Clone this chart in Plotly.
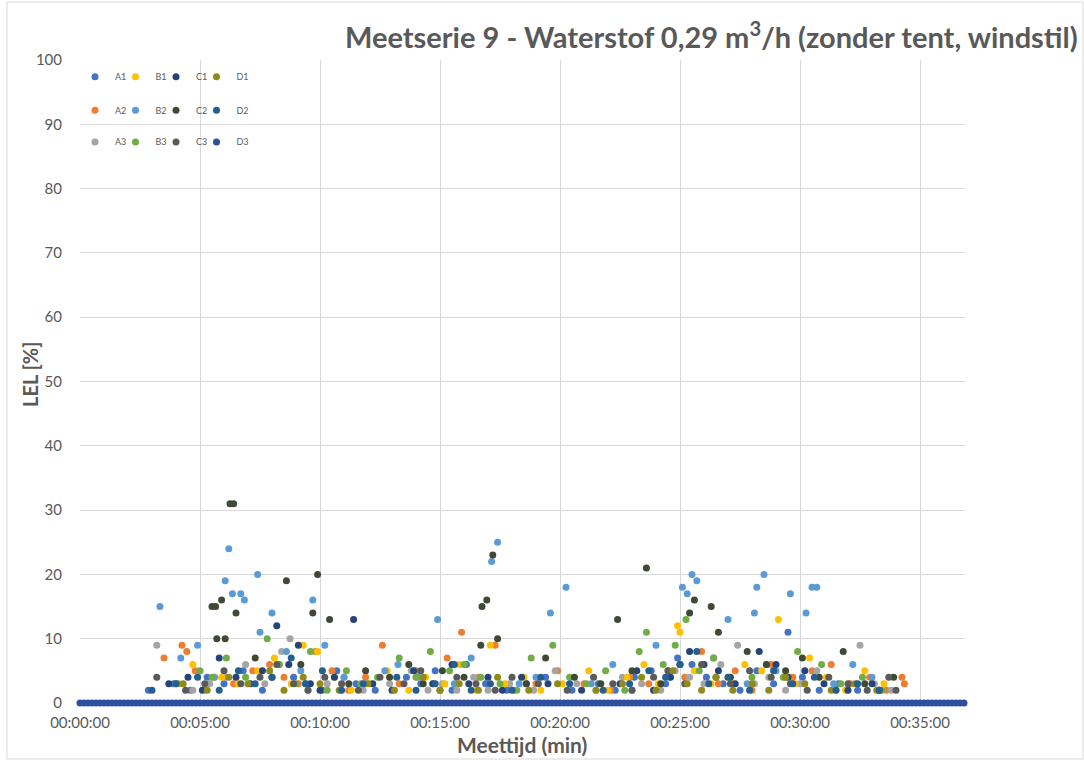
import pandas as pd
import plotly.graph_objects as go

# Meetserie 9 - LEL readings per sensor, time in minutes since start
a1_t = [2.85, 3.9, 4.6, 5.3, 6.0, 6.8, 7.6, 8.3, 8.9, 9.4, 10.1, 10.7, 11.5, 12.3, 13.6, 14.2, 14.8, 15.5, 16.1, 16.9,
        17.8, 18.6, 19.4, 20.5, 21.6, 22.3, 23.1, 23.8, 24.4, 24.9, 25.5, 26.1, 26.8, 27.5, 28.2, 28.9, 29.5, 30.1,
        30.8, 31.6, 32.4, 33.3]
a1_v = [2, 3, 2, 4, 3, 5, 2, 6, 4, 3, 2, 5, 3, 2, 4, 3, 5, 2, 6, 3, 2, 3, 4, 2, 3, 2, 4, 5, 3, 7, 6, 4, 3, 2, 5, 3,
        11, 4, 2, 3, 2, 2]

a2_t = [3.5, 4.25, 4.45, 4.8, 5.6, 6.4, 7.2, 7.9, 8.5, 9.1, 9.8, 10.5, 11.2, 11.9, 12.6, 13.3, 14.0, 14.7, 15.3, 15.9,
        16.6, 17.3, 18.1, 19.0, 19.9, 21.0, 22.1, 22.9, 23.7, 24.5, 25.2, 25.9, 26.6, 27.3, 28.0, 28.8, 29.7, 30.5,
        31.3, 32.1, 32.9, 33.6, 34.25, 34.35]
a2_v = [7, 9, 8, 5, 4, 3, 5, 6, 4, 3, 8, 5, 2, 4, 9, 3, 5, 3, 7, 11, 4, 9, 2, 3, 5, 3, 2, 4, 3, 5, 4, 8, 3, 5, 2, 6,
        4, 5, 6, 3, 4, 2, 4, 3]

a3_t = [3.2, 4.0, 4.7, 5.4, 6.1, 6.9, 7.7, 8.4, 8.75, 9.5, 10.3, 11.0, 11.8, 12.9, 13.8, 14.5, 15.1, 15.7, 16.4, 17.0,
        17.9, 18.9, 19.8, 20.7, 21.5, 22.6, 23.4, 24.2, 24.8, 25.4, 26.0, 26.7, 27.4, 28.1, 28.7, 29.4, 30.0, 30.7,
        31.5, 32.5, 33.1, 33.8]
a3_v = [9, 3, 2, 3, 4, 6, 3, 8, 10, 2, 3, 4, 2, 3, 5, 2, 3, 2, 4, 2, 3, 2, 5, 3, 2, 4, 3, 2, 5, 4, 3, 6, 9, 3, 4, 2,
        3, 5, 2, 9, 3, 2]

b1_t = [4.7, 5.2, 5.9, 6.6, 7.4, 8.1, 8.8, 9.3, 9.9, 10.6, 11.3, 12.1, 12.8, 13.7, 14.4, 15.2, 15.8, 16.5, 17.1, 17.7,
        18.5, 19.2, 20.1, 21.2, 22.0, 22.8, 23.5, 24.1, 24.9, 25.0, 25.6, 26.3, 27.0, 27.7, 28.4, 29.1, 29.8, 30.4,
        31.1, 31.9, 32.7, 33.5]
b1_v = [6, 2, 4, 3, 5, 7, 3, 9, 8, 4, 2, 3, 5, 2, 4, 3, 6, 2, 9, 3, 4, 2, 3, 5, 2, 4, 6, 3, 12, 11, 5, 3, 4, 6, 5, 13,
        3, 7, 4, 2, 5, 3]

b2_t = [3.33, 4.2, 4.9, 5.6, 6.05, 6.2, 6.35, 6.7, 6.85, 7.4, 7.5, 8.0, 8.6, 9.2, 9.7, 10.2, 11.0, 11.9, 12.7, 13.25,
        14.1, 14.9, 15.6, 16.3, 17.15, 17.4, 18.3, 19.0, 19.6, 20.25, 21.3, 22.2, 23.0, 24.0, 24.6, 25.1, 25.3, 25.5,
        25.7, 26.4, 27.0, 27.8, 28.1, 28.2, 28.5, 29.0, 29.6, 30.25, 30.5, 30.7, 31.4, 32.2, 33.0]
b2_v = [15, 7, 9, 4, 19, 24, 17, 17, 16, 20, 11, 14, 8, 5, 16, 9, 4, 3, 5, 6, 4, 13, 3, 7, 22, 25, 3, 4, 14, 18, 3, 6,
        2, 9, 4, 18, 17, 20, 19, 7, 13, 3, 14, 18, 20, 5, 17, 14, 18, 18, 3, 6, 4]

b3_t = [4.1, 5.0, 5.5, 6.1, 6.9, 7.8, 8.3, 9.0, 9.6, 10.3, 11.1, 11.7, 12.4, 13.3, 14.0, 14.6, 15.4, 16.0, 16.7, 17.5,
        18.2, 18.8, 19.7, 20.4, 21.1, 21.9, 22.7, 23.3, 23.6, 24.3, 24.8, 25.25, 25.8, 26.4, 27.2, 28.0, 28.6, 29.3,
        29.9, 30.9, 31.7, 32.6, 33.4]
b3_v = [3, 5, 4, 7, 4, 10, 6, 3, 8, 2, 5, 3, 4, 7, 4, 8, 5, 6, 4, 3, 2, 7, 9, 4, 3, 5, 2, 8, 11, 6, 9, 13, 5, 7, 3, 4,
        6, 4, 8, 6, 3, 4, 2]

c1_t = [3.7, 4.5, 5.1, 5.8, 6.5, 7.1, 7.6, 8.2, 8.7, 9.1, 9.6, 10.0, 10.6, 11.4, 12.2, 13.0, 13.9, 14.7, 15.5, 16.2,
        17.0, 17.6, 18.4, 19.5, 20.9, 22.5, 23.2, 23.9, 24.6, 25.4, 26.0, 26.6, 27.3, 28.3, 29.0, 29.5, 30.2, 31.0,
        32.0, 33.0, 33.3]
c1_v = [3, 4, 2, 7, 4, 3, 5, 12, 6, 9, 3, 2, 4, 13, 3, 2, 5, 3, 6, 3, 4, 2, 4, 3, 2, 3, 5, 2, 4, 8, 6, 5, 3, 8, 6, 4,
        5, 3, 2, 3, 2]

c2_t = [5.5, 5.65, 5.7, 5.9, 6.05, 6.25, 6.4, 6.5, 7.3, 8.0, 8.6, 9.2, 9.7, 9.9, 10.4, 11.2, 11.9, 12.9, 13.7, 14.3,
        15.1, 16.0, 16.7, 16.75, 16.95, 17.2, 17.4, 18.6, 19.4, 20.6, 21.7, 22.4, 23.0, 23.6, 24.2, 25.0, 25.4, 25.6,
        26.3, 26.6, 27.1, 27.8, 28.6, 29.4, 30.1, 30.8, 31.8, 32.7, 33.9]
c2_v = [15, 15, 10, 16, 10, 31, 31, 14, 7, 4, 19, 6, 14, 20, 13, 3, 5, 4, 6, 3, 5, 4, 9, 15, 16, 23, 10, 3, 7, 4, 3,
        13, 5, 21, 3, 6, 14, 16, 15, 11, 4, 8, 6, 5, 7, 4, 8, 3, 4]

c3_t = [3.2, 4.4, 5.2, 6.0, 6.7, 7.5, 8.2, 8.9, 9.5, 10.2, 10.9, 11.6, 12.5, 13.5, 14.2, 15.0, 15.7, 16.5, 17.3, 18.0,
        19.1, 20.3, 21.4, 22.2, 23.0, 23.9, 24.5, 25.2, 25.9, 26.5, 27.1, 27.9, 28.8, 29.6, 30.3, 31.2, 32.0, 32.8,
        33.7, 34.0]
c3_v = [4, 2, 3, 5, 3, 4, 6, 3, 2, 4, 3, 2, 4, 3, 5, 2, 4, 3, 2, 4, 3, 2, 4, 3, 2, 4, 5, 3, 6, 4, 3, 5, 4, 3, 2, 4, 3,
        2, 4, 2]

d1_t = [4.3, 5.3, 6.2, 7.0, 7.9, 8.5, 9.3, 10.0, 10.8, 12.0, 13.1, 14.3, 15.0, 15.8, 16.6, 17.4, 18.7, 19.9, 21.5,
        22.6, 23.4, 24.0, 24.7, 25.3, 25.9, 26.5, 27.2, 28.0, 28.7, 29.4, 30.2, 31.3, 32.3, 33.2]
d1_v = [3, 2, 4, 3, 5, 2, 4, 3, 2, 3, 2, 4, 2, 3, 2, 4, 2, 3, 2, 3, 4, 2, 5, 3, 2, 4, 2, 3, 2, 4, 3, 2, 3, 2]

d2_t = [3.0, 4.0, 4.9, 5.8, 6.6, 7.3, 8.0, 8.8, 9.4, 10.1, 10.9, 11.8, 13.2, 14.0, 14.8, 15.6, 16.3, 17.1, 18.0, 19.2,
        20.4, 21.8, 22.9, 23.7, 24.4, 25.0, 25.7, 26.2, 27.0, 27.9, 28.9, 29.7, 30.6, 31.5, 32.4, 33.3]
d2_v = [2, 3, 4, 2, 5, 3, 4, 7, 3, 5, 2, 3, 4, 2, 3, 6, 2, 3, 2, 4, 3, 2, 3, 5, 4, 6, 8, 3, 4, 2, 5, 3, 4, 2, 3, 2]

# D3 read 0 for the whole run (logger sampled every 10 s, 222 samples)
d3_t = [i / 6 for i in range(222)]
d3_v = [0] * len(d3_t)

series = [
    ("A1", a1_t, a1_v, "#4472C4"),
    ("A2", a2_t, a2_v, "#ED7D31"),
    ("A3", a3_t, a3_v, "#A5A5A5"),
    ("B1", b1_t, b1_v, "#FFC000"),
    ("B2", b2_t, b2_v, "#5B9BD5"),
    ("B3", b3_t, b3_v, "#70AD47"),
    ("C1", c1_t, c1_v, "#264478"),
    ("C2", c2_t, c2_v, "#3E4A33"),
    ("C3", c3_t, c3_v, "#5A5A5A"),
    ("D1", d1_t, d1_v, "#8F8A1A"),
    ("D2", d2_t, d2_v, "#255E91"),
    ("D3", d3_t, d3_v, "#2E4F9E"),
]

BASE = pd.Timestamp("1900-01-01")
GREY = "#595959"
FONT = "Lato"

# plot area in pixels: x 80..965, y 60..703
PL, PW, PB, PH = 80, 885, 703, 643
LEG_COL_PX = {"A": 94, "B": 134.5, "C": 175, "D": 215.5}   # legend marker x
LEG_ROW_Y = {"1": 0.974, "2": 0.922, "3": 0.8725}


def to_time(minutes):
    return BASE + pd.to_timedelta(pd.Series(minutes) * 60, unit="s")


fig = go.Figure()
legends = {}
for i, (name, t, v, color) in enumerate(series):
    key = "legend" if i == 0 else f"legend{i + 1}"
    fig.add_trace(go.Scatter(
        x=to_time(t), y=v, name=name, mode="markers",
        marker=dict(color=color, size=7),
        cliponaxis=False, legend=key,
    ))
    legends[key] = dict(
        x=(LEG_COL_PX[name[0]] - 19 - PL) / PW, y=LEG_ROW_Y[name[1]],
        xanchor="left", yanchor="middle", bgcolor="rgba(0,0,0,0)",
        font=dict(family=FONT, size=9, color=GREY), itemwidth=30,
    )

fig.update_layout(
    width=1084, height=760,
    margin=dict(l=80, r=119, t=60, b=57),
    paper_bgcolor="white", plot_bgcolor="white",
    font=dict(family=FONT, color=GREY),
    xaxis=dict(
        type="date", automargin=False,
        range=[BASE, BASE + pd.Timedelta(minutes=36.875)],
        dtick=300000, tick0=BASE, tickformat="%H:%M:%S",
        showgrid=True, gridcolor="#D9D9D9", gridwidth=1,
        zeroline=False, showline=False,
        ticks="outside", ticklen=6, tickcolor="rgba(0,0,0,0)",
        tickfont=dict(family=FONT, size=15, color=GREY),
    ),
    yaxis=dict(
        range=[0, 100], dtick=10, automargin=False,
        showgrid=True, gridcolor="#D9D9D9", gridwidth=1,
        zeroline=False, showline=False,
        ticks="outside", ticklen=14, tickcolor="rgba(0,0,0,0)",
        tickfont=dict(family=FONT, size=15, color=GREY),
    ),
    showlegend=True,
    **legends,
)

# title, right-aligned against the chart edge
fig.add_annotation(
    text="Meetserie 9 - Waterstof 0,29 m<sup>3</sup>/h (zonder tent, windstil)",
    xref="paper", yref="paper", x=(1080 - PL) / PW, y=(PB - 35) / PH,
    xanchor="right", yanchor="middle", showarrow=False,
    font=dict(family=FONT, size=29, color=GREY, weight="bold"),
)

# axis titles placed like the Excel layout
fig.add_annotation(
    text="LEL [%]", textangle=-90,
    xref="paper", yref="paper", x=(30 - PL) / PW, y=(PB - 375) / PH,
    xanchor="center", yanchor="middle", showarrow=False,
    font=dict(family=FONT, size=20, color=GREY, weight="bold"),
)
fig.add_annotation(
    text="Meettijd (min)",
    xref="paper", yref="paper", x=(522 - PL) / PW, y=(PB - 744) / PH,
    xanchor="center", yanchor="middle", showarrow=False,
    font=dict(family=FONT, size=21, color=GREY, weight="bold"),
)

# light chart-area border like the Excel frame
fig.add_shape(type="rect", xref="paper", yref="paper",
              x0=(7 - PL) / PW, x1=(1083 - PL) / PW, y0=(PB - 759) / PH, y1=(PB - 2) / PH,
              line=dict(color="#D9D9D9", width=1), fillcolor="rgba(0,0,0,0)", layer="below")

fig.write_html("out.html", config={"displayModeBar": False},
               post_script="document.body.style.margin = '0';")
